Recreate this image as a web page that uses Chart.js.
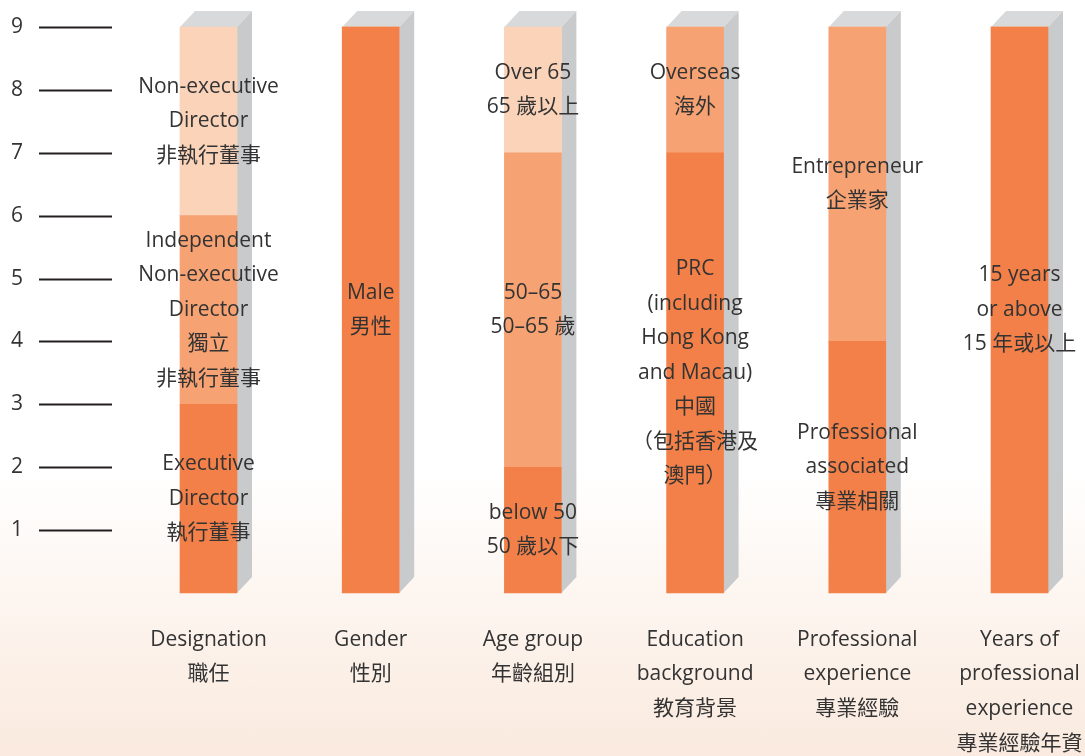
<!DOCTYPE html>
<html>
<head>
<meta charset="utf-8">
<script src="https://cdn.jsdelivr.net/npm/chart.js@4"></script>
<style>
  html, body { margin: 0; padding: 0; }
  body {
    width: 1085px; height: 756px; overflow: hidden;
    background: linear-gradient(to bottom, #ffffff 0%, #ffffff 62%, #fdf6f1 78%, #fbefe6 90%, #faeadf 100%);
  }
  canvas { display: block; }
</style>
</head>
<body>
<canvas id="boardChart" width="1085" height="756"></canvas>
<script>
// categories (x axis, multi-line)
const categories = [
  ["Designation", "職任"],
  ["Gender", "性別"],
  ["Age group", "年齡組別"],
  ["Education", "background", "教育背景"],
  ["Professional", "experience", "專業經驗"],
  ["Years of", "professional", "experience", "專業經驗年資"]
];

// stacked segments, bottom to top
const level1 = [3, 9, 2, 7, 4, 9];
const level2 = [3, 0, 5, 2, 5, 0];
const level3 = [3, 0, 2, 0, 0, 0];

const level1Names = [
  ["Executive", "Director", "執行董事"],
  ["Male", "男性"],
  ["below 50", "50 歲以下"],
  ["PRC", "(including", "Hong Kong", "and Macau)", "中國", "（包括香港及", "澳門）"],
  ["Professional", "associated", "專業相關"],
  ["15 years", "or above", "15 年或以上"]
];
const level2Names = [
  ["Independent", "Non-executive", "Director", "獨立", "非執行董事"],
  [],
  ["50–65", "50–65 歲"],
  ["Overseas", "海外"],
  ["Entrepreneur", "企業家"],
  []
];
const level3Names = [
  ["Non-executive", "Director", "非執行董事"],
  [],
  ["Over 65", "65 歲以上"],
  [],
  [],
  []
];

const yTicks = [1, 2, 3, 4, 5, 6, 7, 8, 9];

const FONT = "'Open Sans', 'Noto Sans CJK TC', sans-serif";
const TEXT = "#333333";
const segNames = [level1Names, level2Names, level3Names];

// 3D side and top faces behind the bars
const depthPlugin = {
  id: "depth",
  beforeDatasetsDraw(chart) {
    const ctx = chart.ctx;
    const y = chart.scales.y;
    const meta = chart.getDatasetMeta(0);
    const dx = 15, dy = 16;
    ctx.save();
    meta.data.forEach((el, i) => {
      const total = level1[i] + level2[i] + level3[i];
      const l = el.x - el.width / 2, r = el.x + el.width / 2;
      const top = y.getPixelForValue(total), bot = y.getPixelForValue(0);
      ctx.fillStyle = "#d8d9da";
      ctx.beginPath();
      ctx.moveTo(l, top); ctx.lineTo(l + dx, top - dy);
      ctx.lineTo(r + dx, top - dy); ctx.lineTo(r, top);
      ctx.closePath(); ctx.fill();
      ctx.fillStyle = "#c9cacc";
      ctx.beginPath();
      ctx.moveTo(r, top); ctx.lineTo(r + dx, top - dy);
      ctx.lineTo(r + dx, bot - dy); ctx.lineTo(r, bot);
      ctx.closePath(); ctx.fill();
    });
    ctx.restore();
  },
  afterDatasetsDraw(chart) {
    const ctx = chart.ctx;
    ctx.save();
    ctx.font = "21px " + FONT;
    ctx.fillStyle = TEXT;
    ctx.textAlign = "center";
    ctx.textBaseline = "middle";
    const lh = 34.5;
    chart.data.datasets.forEach((ds, d) => {
      chart.getDatasetMeta(d).data.forEach((el, i) => {
        const lines = segNames[d][i];
        if (!ds.data[i] || !lines.length) return;
        const cy = (el.y + el.base) / 2;
        const start = cy - (lines.length - 1) * lh / 2;
        lines.forEach((t, k) => ctx.fillText(t, el.x, start + k * lh));
      });
    });
    ctx.restore();
  },
  afterDraw(chart) {
    // short tick bars on the left
    const ctx = chart.ctx;
    const y = chart.scales.y;
    ctx.save();
    ctx.strokeStyle = "#231f20";
    ctx.lineWidth = 2;
    yTicks.forEach(v => {
      const py = Math.round(y.getPixelForValue(v)) + 0.5;
      ctx.beginPath();
      ctx.moveTo(39, py); ctx.lineTo(112, py);
      ctx.stroke();
    });
    ctx.restore();
  }
};

const ctx = document.getElementById("boardChart").getContext("2d");
new Chart(ctx, {
  type: "bar",
  data: {
    labels: categories,
    datasets: [
      { data: level1, backgroundColor: "#f28048" },
      { data: level2, backgroundColor: "#f6a273" },
      { data: level3, backgroundColor: "#fad3b9" }
    ]
  },
  options: {
    responsive: false,
    animation: false,
    layout: { padding: { left: 11, right: 65.5, top: 27, bottom: 0 } },
    datasets: { bar: { barThickness: 57, borderWidth: 0, clip: false } },
    plugins: { legend: { display: false }, tooltip: { enabled: false } },
    scales: {
      x: {
        stacked: true,
        offset: false,
        grid: { display: false, drawTicks: false },
        border: { display: false },
        ticks: {
          color: TEXT,
          padding: 29.5,
          maxRotation: 0,
          autoSkip: false,
          font: { family: FONT, size: 21, lineHeight: 1.65 }
        },
        afterFit: s => {
          s.height = 163;
          s.paddingLeft = 0;
          s.paddingRight = 0;
        }
      },
      y: {
        stacked: true,
        min: 0,
        max: 9,
        grid: { display: false, drawTicks: false },
        border: { display: false },
        ticks: {
          stepSize: 1,
          color: TEXT,
          crossAlign: "far",
          font: { family: FONT, size: 21 },
          callback: v => (yTicks.includes(v) ? String(v) : "")
        },
        afterFit: s => { s.width = 197.5; }
      }
    }
  },
  plugins: [depthPlugin]
});
</script>
</body>
</html>
